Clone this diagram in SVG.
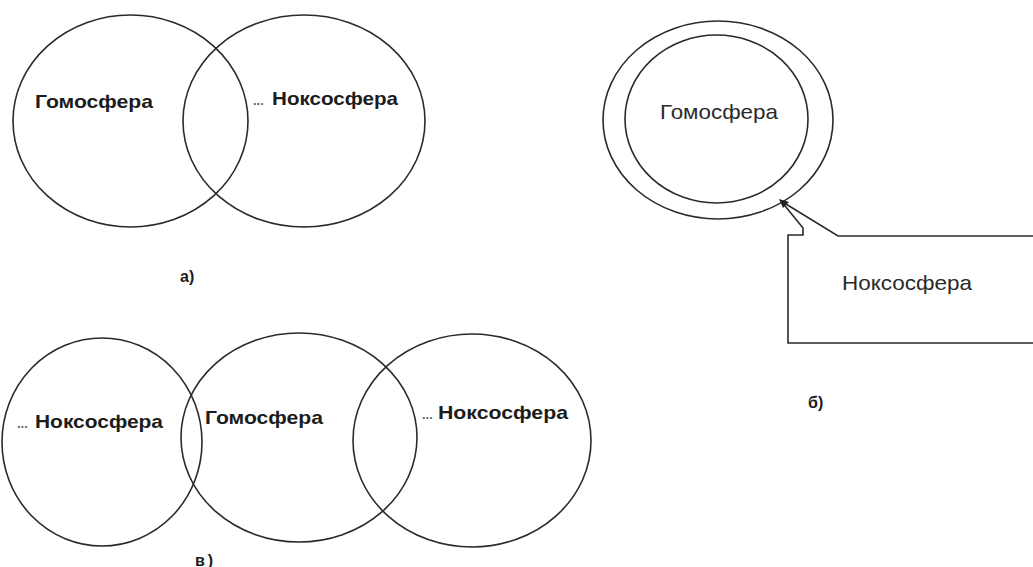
<svg xmlns="http://www.w3.org/2000/svg" width="1033" height="567" viewBox="0 0 1033 567">
<style>
.e{fill:none;stroke:#2a2a2a;stroke-width:1.6}
.tb{font-family:"Liberation Sans",Arial,sans-serif;font-weight:bold;font-size:19px;fill:#1c1c1c}
.tr{font-family:"Liberation Sans",Arial,sans-serif;font-size:21px;fill:#2a2a2a}
.d{font-size:13px;fill:#666}
.lb{font-family:"Liberation Sans",Arial,sans-serif;font-weight:bold;font-size:16px;fill:#1c1c1c}
</style>
<rect width="1033" height="567" fill="#fff"/>
<g id="a-homo">
<ellipse class="e" cx="130.5" cy="121" rx="117.5" ry="106"/>
<text class="tb" x="35" y="108" textLength="118" lengthAdjust="spacingAndGlyphs">Гомосфера</text>
</g>
<g id="a-nokso">
<ellipse class="e" cx="304" cy="121" rx="121" ry="106"/>
<text class="tb" x="253" y="105"><tspan class="d">...</tspan><tspan x="272" textLength="126" lengthAdjust="spacingAndGlyphs">Ноксосфера</tspan></text>
</g>
<text id="label-a" class="lb" x="180" y="282">а)</text>
<g id="b-outer">
<ellipse class="e" cx="718" cy="120" rx="115" ry="99"/>
</g>
<g id="b-homo">
<ellipse class="e" cx="716.5" cy="119" rx="91.5" ry="84"/>
<text class="tr" x="660" y="119" textLength="118" lengthAdjust="spacingAndGlyphs">Гомосфера</text>
</g>
<g id="b-nokso">
<path d="M1033 236 L838 236 L781 201 L803 228 L803 235 L788 235 L788 343 L1033 343" fill="none" stroke="#2a2a2a" stroke-width="1.6"/>
<polygon points="779,199 789,202 783,208" fill="#222"/>
<text class="tr" x="842" y="290" textLength="130" lengthAdjust="spacingAndGlyphs">Ноксосфера</text>
</g>
<text id="label-b" class="lb" x="808" y="408">б)</text>
<g id="c-nokso-left">
<ellipse class="e" cx="102" cy="442" rx="100" ry="104"/>
<text class="tb" x="17" y="428"><tspan class="d">...</tspan><tspan x="35" textLength="128" lengthAdjust="spacingAndGlyphs">Ноксосфера</tspan></text>
</g>
<g id="c-homo">
<ellipse class="e" cx="299" cy="437.5" rx="118" ry="104.5"/>
<text class="tb" x="205" y="424" textLength="118" lengthAdjust="spacingAndGlyphs">Гомосфера</text>
</g>
<g id="c-nokso-right">
<ellipse class="e" cx="472" cy="440.5" rx="119" ry="106.5"/>
<text class="tb" x="422" y="419"><tspan class="d">...</tspan><tspan x="438" textLength="130" lengthAdjust="spacingAndGlyphs">Ноксосфера</tspan></text>
</g>
<text id="label-c" class="lb" x="195" y="566" letter-spacing="3">в)</text>
<g id="connectors"/>
</svg>
